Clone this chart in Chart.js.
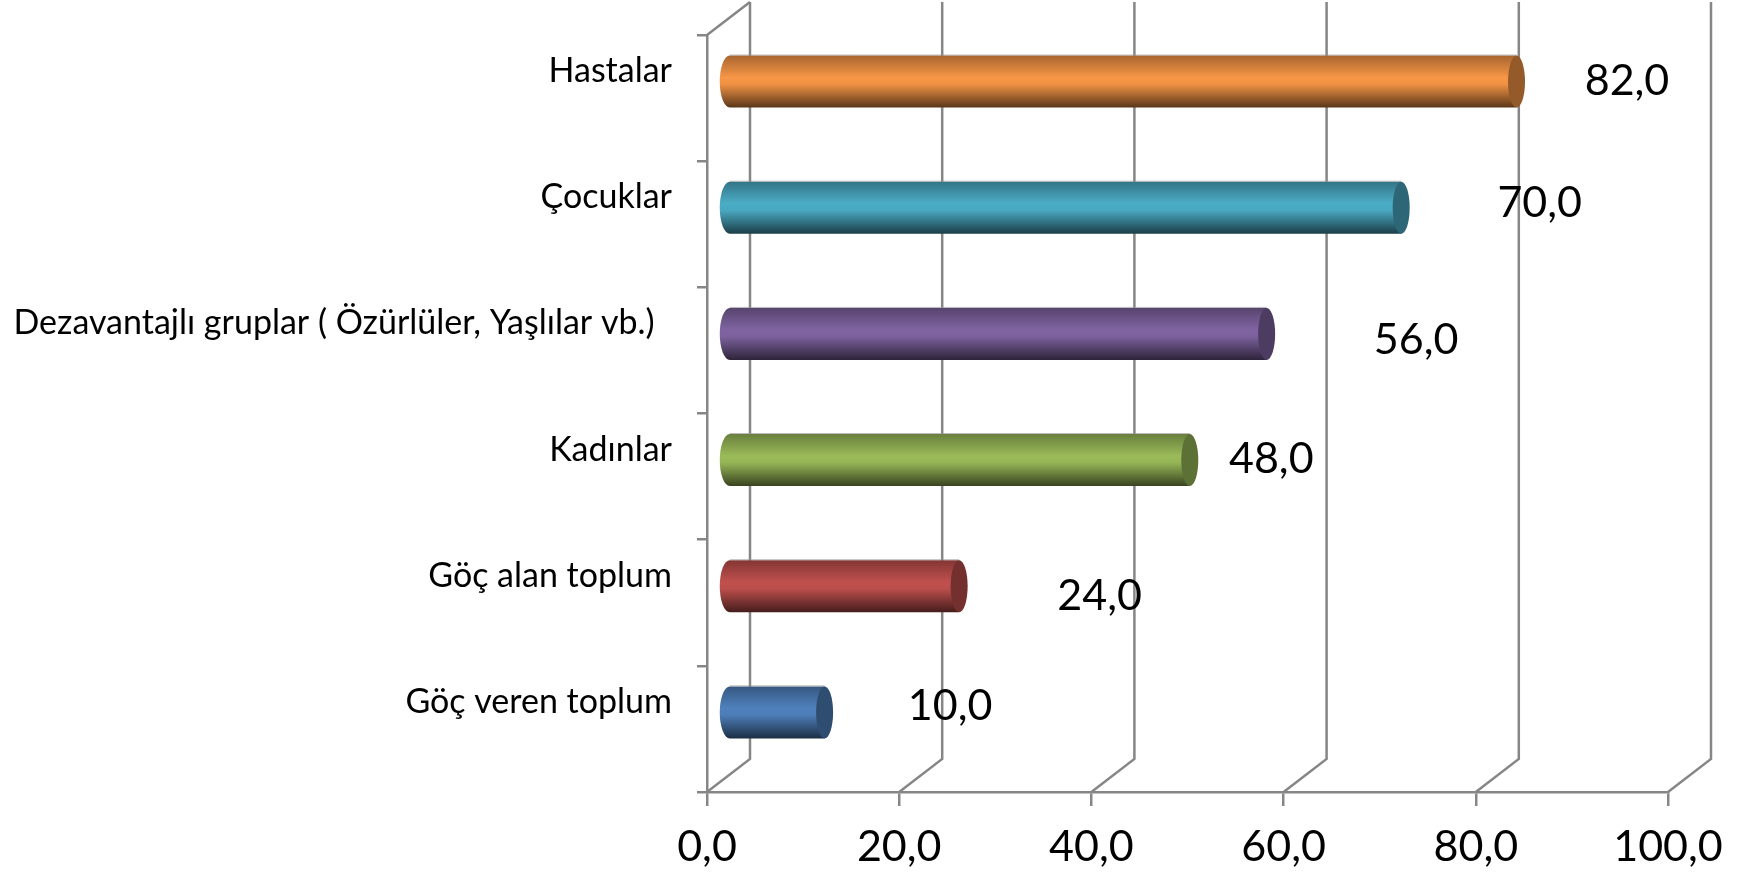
<!DOCTYPE html>
<html>
<head>
<meta charset="utf-8">
<style>
  html, body { margin: 0; padding: 0; background: #fff; }
  canvas { display: block; }
</style>
<script src="https://cdn.jsdelivr.net/npm/chart.js@4/dist/chart.umd.min.js"></script>
</head>
<body>
<canvas id="chart" width="1748" height="876"></canvas>
<script>
/* data, top row first */
const categories = ['Hastalar', 'Çocuklar', 'Dezavantajlı gruplar ( Özürlüler, Yaşlılar vb.)  ', 'Kadınlar', 'Göç alan toplum', 'Göç veren toplum'];
const values     = [82, 70, 56, 48, 24, 10];
const tickLabels = ['0,0', '20,0', '40,0', '60,0', '80,0', '100,0'];

/* look */
const barColors = ['#F79646', '#4BACC6', '#8064A2', '#9BBB59', '#C0504D', '#4F81BD'];
const labelShift = [[132, -17], [160, -21], [171, -10], [103, -17], [162, -7], [147, -23]]; // data labels float loosely in the original
const GRID = '#868686';
const DEPTH_X = 43, DEPTH_Y = 33, CAP_RX = 8.5, END_RX = 10;

function shade(hex, f) {
  const n = parseInt(hex.slice(1), 16);
  return `rgb(${Math.round((n >> 16) * f)},${Math.round(((n >> 8) & 255) * f)},${Math.round((n & 255) * f)})`;
}

/* back wall of the fake 3D box */
const wall = {
  id: 'wall',
  beforeDatasetsDraw(chart) {
    const { ctx, scales: { x }, chartArea: a } = chart;
    ctx.save();
    ctx.strokeStyle = GRID;
    ctx.lineWidth = 2.5;
    x.ticks.forEach(t => {
      const px = x.getPixelForValue(t.value);
      ctx.beginPath();
      ctx.moveTo(px, a.bottom);
      ctx.lineTo(px + DEPTH_X, a.bottom - DEPTH_Y);
      ctx.lineTo(px + DEPTH_X, a.top - DEPTH_Y);
      ctx.stroke();
    });
    ctx.beginPath();
    ctx.moveTo(a.left, a.top);
    ctx.lineTo(a.left + DEPTH_X, a.top - DEPTH_Y);
    ctx.stroke();
    ctx.restore();
  }
};

/* bars are drawn as cylinders from the bar elements' own geometry */
const cylinders = {
  id: 'cylinders',
  beforeDatasetDraw(chart, args) {
    const { ctx } = chart;
    args.meta.data.forEach((bar, i) => {
      const col = barColors[i];
      const x0 = bar.base + DEPTH_X / 2;
      const x1 = bar.x + DEPTH_X / 2;
      const cy = bar.y - DEPTH_Y / 2;
      const ry = bar.height / 2;
      const g = ctx.createLinearGradient(0, cy - ry, 0, cy + ry);
      g.addColorStop(0, shade(col, 0.68));
      g.addColorStop(0.42, shade(col, 1));
      g.addColorStop(0.55, shade(col, 0.97));
      g.addColorStop(1, shade(col, 0.36));
      ctx.save();
      ctx.beginPath();
      ctx.ellipse(x0, cy, END_RX, ry, 0, Math.PI * 1.5, Math.PI * 0.5, true);
      ctx.lineTo(x1, cy + ry);
      ctx.lineTo(x1, cy - ry);
      ctx.closePath();
      ctx.fillStyle = g;
      ctx.fill();
      ctx.beginPath();
      ctx.moveTo(x0, cy - ry - 0.5);
      ctx.lineTo(x1, cy - ry - 0.5);
      ctx.strokeStyle = 'rgba(150,150,150,.7)';
      ctx.lineWidth = 1;
      ctx.stroke();
      ctx.beginPath();
      ctx.ellipse(x1, cy, CAP_RX, ry, 0, 0, Math.PI * 2);
      ctx.fillStyle = shade(col, 0.6);
      ctx.fill();
      ctx.restore();
    });
    return false;
  },
  afterDatasetsDraw(chart) {
    const { ctx } = chart;
    const meta = chart.getDatasetMeta(0);
    ctx.save();
    ctx.font = '43px Lato';
    ctx.fillStyle = '#000';
    ctx.textAlign = 'center';
    ctx.textBaseline = 'middle';
    meta.data.forEach((bar, i) => {
      const [dx, dy] = labelShift[i];
      ctx.fillText(values[i].toFixed(1).replace('.', ','), bar.x + dx, bar.y + dy);
    });
    ctx.restore();
  }
};

new Chart(document.getElementById('chart'), {
  type: 'bar',
  data: {
    labels: categories,
    datasets: [{ data: values, backgroundColor: barColors, barThickness: 52 }]
  },
  options: {
    indexAxis: 'y',
    responsive: false,
    animation: false,
    layout: { padding: { top: 35, right: 80, left: 0, bottom: 0 } },
    plugins: { legend: { display: false }, tooltip: { enabled: false } },
    scales: {
      x: {
        min: 0, max: 100,
        afterFit: s => { s.height = 84; s.paddingLeft = 0; s.paddingRight = 0; },
        border: { color: GRID, width: 2.5 },
        grid: { drawOnChartArea: false, color: GRID, lineWidth: 2.5, tickLength: 14 },
        ticks: {
          stepSize: 20, maxRotation: 0, autoSkip: false, padding: 15,
          color: '#000', font: { family: 'Lato', size: 43 },
          callback: (v, i) => tickLabels[i]
        }
      },
      y: {
        afterFit: s => { s.width = 707; s.paddingTop = 0; s.paddingBottom = 0; },
        border: { color: GRID, width: 2.5 },
        grid: { drawOnChartArea: false, color: GRID, lineWidth: 2.5, tickLength: 10, offset: true },
        ticks: {
          padding: 25, labelOffset: -27, autoSkip: false,
          color: '#000', font: { family: 'Lato', size: 34 }
        }
      }
    }
  },
  plugins: [wall, cylinders]
});
</script>
</body>
</html>
